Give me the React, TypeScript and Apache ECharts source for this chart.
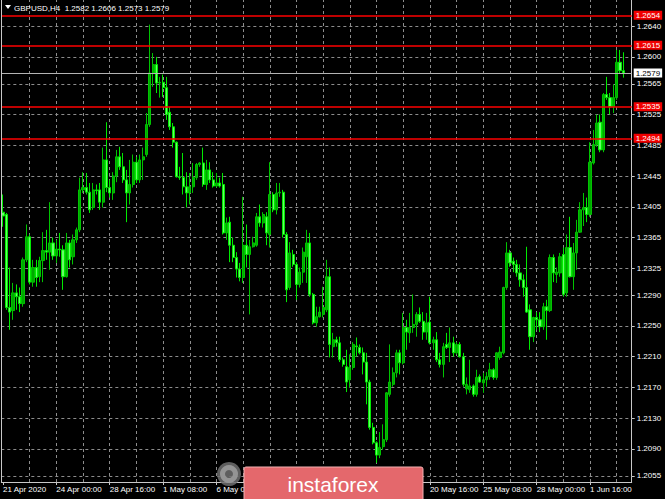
import React, { useEffect, useRef } from 'react';
import * as echarts from 'echarts';

const symbolName = 'GBPUSD,H4';
const tickLabels = ['21 Apr 2020', '24 Apr 00:00', '28 Apr 16:00', '1 May 08:00', '6 May 00:00', '8 May 16:00', '13 May 08:00', '18 May 00:00', '20 May 16:00', '25 May 08:00', '28 May 00:00', '1 Jun 16:00'];
// tick labels that sit completely under the watermark box in the reference
const coveredTickLabels = ['8 May 16:00', '13 May 08:00', '18 May 00:00'];
const priceTicks = [1.2055, 1.2090, 1.2130, 1.2170, 1.2210, 1.2250, 1.2290, 1.2325, 1.2365, 1.2405, 1.2445, 1.2485, 1.2525, 1.2565, 1.2600, 1.2640];
const levelLines = [1.2654, 1.2615, 1.2535, 1.2494];
const currentPrice = 1.2579;

const opens = [
  1.2398, 1.2395, 1.2274, 1.2270, 1.2293, 1.2288, 1.2279, 1.2336, 1.2366, 1.2307,
  1.2326, 1.2314, 1.2335, 1.2348, 1.2346, 1.2358, 1.2341, 1.2350, 1.2349, 1.2314,
  1.2358, 1.2340, 1.2362, 1.2375, 1.2427, 1.2430, 1.2424, 1.2404, 1.2427, 1.2427,
  1.2411, 1.2466, 1.2430, 1.2423, 1.2445, 1.2470, 1.2457, 1.2440, 1.2423, 1.2434,
  1.2463, 1.2440, 1.2466, 1.2473, 1.2512, 1.2579, 1.2590, 1.2566, 1.2567, 1.2560,
  1.2528, 1.2509, 1.2489, 1.2444, 1.2443, 1.2431, 1.2423, 1.2431, 1.2443, 1.2460,
  1.2462, 1.2434, 1.2453, 1.2440, 1.2432, 1.2436, 1.2434, 1.2371, 1.2385, 1.2355,
  1.2339, 1.2324, 1.2313, 1.2355, 1.2343, 1.2353, 1.2355, 1.2392, 1.2384, 1.2392,
  1.2369, 1.2421, 1.2401, 1.2423, 1.2424, 1.2369, 1.2300, 1.2343, 1.2330, 1.2304,
  1.2320, 1.2340, 1.2358, 1.2291, 1.2254, 1.2262, 1.2265, 1.2271, 1.2314, 1.2223,
  1.2232, 1.2228, 1.2206, 1.2197, 1.2180, 1.2196, 1.2224, 1.2222, 1.2215, 1.2203,
  1.2177, 1.2118, 1.2098, 1.2082, 1.2093, 1.2102, 1.2161, 1.2174, 1.2189, 1.2215,
  1.2202, 1.2248, 1.2241, 1.2248, 1.2252, 1.2265, 1.2256, 1.2242, 1.2255, 1.2228,
  1.2232, 1.2206, 1.2200, 1.2226, 1.2222, 1.2228, 1.2215, 1.2226, 1.2210, 1.2168,
  1.2167, 1.2172, 1.2161, 1.2184, 1.2176, 1.2180, 1.2184, 1.2193, 1.2183, 1.2209,
  1.2215, 1.2300, 1.2345, 1.2334, 1.2330, 1.2319, 1.2310, 1.2300, 1.2271, 1.2236,
  1.2261, 1.2258, 1.2249, 1.2275, 1.2270, 1.2339, 1.2317, 1.2319, 1.2343, 1.2293,
  1.2352, 1.2314, 1.2345, 1.2372, 1.2401, 1.2404, 1.2395, 1.2462, 1.2486, 1.2515,
  1.2479, 1.2551, 1.2547, 1.2535, 1.2547, 1.2593, 1.2582,
];
const highs = [
  1.2421, 1.2397, 1.2326, 1.2306, 1.2304, 1.2300, 1.2339, 1.2382, 1.2369, 1.2336,
  1.2336, 1.2340, 1.2372, 1.2375, 1.2411, 1.2365, 1.2362, 1.2371, 1.2355, 1.2371,
  1.2362, 1.2369, 1.2378, 1.2443, 1.2450, 1.2449, 1.2436, 1.2436, 1.2434, 1.2436,
  1.2482, 1.2515, 1.2440, 1.2450, 1.2479, 1.2483, 1.2475, 1.2453, 1.2466, 1.2473,
  1.2470, 1.2473, 1.2482, 1.2527, 1.2642, 1.2605, 1.2600, 1.2574, 1.2577, 1.2574,
  1.2535, 1.2514, 1.2490, 1.2457, 1.2475, 1.2450, 1.2449, 1.2462, 1.2462, 1.2463,
  1.2482, 1.2466, 1.2463, 1.2450, 1.2449, 1.2443, 1.2449, 1.2391, 1.2392, 1.2365,
  1.2346, 1.2332, 1.2418, 1.2382, 1.2362, 1.2366, 1.2397, 1.2408, 1.2398, 1.2398,
  1.2463, 1.2424, 1.2436, 1.2436, 1.2427, 1.2372, 1.2359, 1.2349, 1.2333, 1.2326,
  1.2352, 1.2375, 1.2371, 1.2293, 1.2275, 1.2275, 1.2301, 1.2336, 1.2326, 1.2241,
  1.2236, 1.2236, 1.2209, 1.2219, 1.2213, 1.2229, 1.2235, 1.2226, 1.2222, 1.2215,
  1.2180, 1.2124, 1.2100, 1.2112, 1.2122, 1.2164, 1.2226, 1.2196, 1.2219, 1.2219,
  1.2267, 1.2258, 1.2267, 1.2291, 1.2268, 1.2274, 1.2268, 1.2267, 1.2288, 1.2236,
  1.2242, 1.2215, 1.2228, 1.2241, 1.2248, 1.2236, 1.2229, 1.2229, 1.2215, 1.2183,
  1.2206, 1.2174, 1.2193, 1.2187, 1.2189, 1.2190, 1.2202, 1.2195, 1.2216, 1.2223,
  1.2301, 1.2359, 1.2349, 1.2339, 1.2336, 1.2330, 1.2317, 1.2353, 1.2278, 1.2262,
  1.2268, 1.2268, 1.2280, 1.2284, 1.2343, 1.2343, 1.2326, 1.2345, 1.2352, 1.2369,
  1.2392, 1.2358, 1.2388, 1.2411, 1.2423, 1.2417, 1.2489, 1.2505, 1.2525, 1.2525,
  1.2553, 1.2574, 1.2553, 1.2564, 1.2609, 1.2609, 1.2606,
];
const lows = [
  1.2379, 1.2271, 1.2245, 1.2258, 1.2271, 1.2268, 1.2275, 1.2333, 1.2304, 1.2301,
  1.2301, 1.2307, 1.2307, 1.2336, 1.2323, 1.2336, 1.2332, 1.2340, 1.2297, 1.2313,
  1.2326, 1.2330, 1.2358, 1.2372, 1.2423, 1.2421, 1.2397, 1.2401, 1.2421, 1.2401,
  1.2404, 1.2424, 1.2417, 1.2414, 1.2437, 1.2453, 1.2436, 1.2385, 1.2408, 1.2430,
  1.2436, 1.2436, 1.2440, 1.2470, 1.2509, 1.2561, 1.2553, 1.2547, 1.2548, 1.2518,
  1.2505, 1.2482, 1.2443, 1.2440, 1.2421, 1.2404, 1.2408, 1.2423, 1.2440, 1.2457,
  1.2431, 1.2427, 1.2436, 1.2430, 1.2430, 1.2430, 1.2369, 1.2362, 1.2333, 1.2333,
  1.2313, 1.2308, 1.2306, 1.2326, 1.2265, 1.2352, 1.2353, 1.2379, 1.2378, 1.2355,
  1.2352, 1.2398, 1.2395, 1.2418, 1.2365, 1.2281, 1.2297, 1.2327, 1.2284, 1.2300,
  1.2306, 1.2306, 1.2288, 1.2252, 1.2249, 1.2261, 1.2261, 1.2268, 1.2209, 1.2209,
  1.2223, 1.2203, 1.2197, 1.2164, 1.2170, 1.2193, 1.2210, 1.2213, 1.2187, 1.2148,
  1.2115, 1.2096, 1.2072, 1.2078, 1.2089, 1.2099, 1.2158, 1.2171, 1.2183, 1.2187,
  1.2200, 1.2219, 1.2228, 1.2241, 1.2236, 1.2254, 1.2232, 1.2232, 1.2226, 1.2219,
  1.2203, 1.2196, 1.2183, 1.2220, 1.2203, 1.2210, 1.2213, 1.2209, 1.2171, 1.2161,
  1.2163, 1.2158, 1.2158, 1.2176, 1.2163, 1.2171, 1.2180, 1.2180, 1.2180, 1.2206,
  1.2213, 1.2297, 1.2327, 1.2320, 1.2314, 1.2301, 1.2288, 1.2267, 1.2219, 1.2229,
  1.2245, 1.2242, 1.2245, 1.2232, 1.2268, 1.2307, 1.2306, 1.2314, 1.2288, 1.2288,
  1.2313, 1.2297, 1.2323, 1.2371, 1.2380, 1.2385, 1.2392, 1.2460, 1.2483, 1.2476,
  1.2476, 1.2544, 1.2525, 1.2527, 1.2544, 1.2579, 1.2573,
];
const closes = [
  1.2393, 1.2274, 1.2268, 1.2293, 1.2288, 1.2279, 1.2336, 1.2366, 1.2307, 1.2326,
  1.2313, 1.2335, 1.2348, 1.2346, 1.2358, 1.2341, 1.2350, 1.2349, 1.2314, 1.2358,
  1.2336, 1.2362, 1.2375, 1.2427, 1.2430, 1.2424, 1.2401, 1.2427, 1.2426, 1.2411,
  1.2466, 1.2430, 1.2423, 1.2445, 1.2470, 1.2457, 1.2440, 1.2423, 1.2434, 1.2463,
  1.2440, 1.2466, 1.2470, 1.2512, 1.2579, 1.2590, 1.2566, 1.2567, 1.2560, 1.2525,
  1.2509, 1.2489, 1.2444, 1.2443, 1.2431, 1.2423, 1.2431, 1.2443, 1.2460, 1.2462,
  1.2434, 1.2453, 1.2440, 1.2432, 1.2436, 1.2432, 1.2371, 1.2384, 1.2355, 1.2339,
  1.2324, 1.2313, 1.2355, 1.2343, 1.2353, 1.2358, 1.2392, 1.2384, 1.2395, 1.2371,
  1.2421, 1.2401, 1.2423, 1.2424, 1.2369, 1.2297, 1.2345, 1.2330, 1.2304, 1.2320,
  1.2346, 1.2358, 1.2291, 1.2254, 1.2262, 1.2268, 1.2274, 1.2314, 1.2226, 1.2232,
  1.2228, 1.2206, 1.2200, 1.2177, 1.2196, 1.2226, 1.2223, 1.2215, 1.2203, 1.2177,
  1.2118, 1.2098, 1.2082, 1.2092, 1.2102, 1.2163, 1.2177, 1.2189, 1.2215, 1.2202,
  1.2248, 1.2242, 1.2248, 1.2252, 1.2265, 1.2256, 1.2242, 1.2254, 1.2228, 1.2232,
  1.2206, 1.2200, 1.2223, 1.2222, 1.2228, 1.2215, 1.2226, 1.2210, 1.2174, 1.2174,
  1.2172, 1.2161, 1.2183, 1.2177, 1.2180, 1.2184, 1.2193, 1.2183, 1.2215, 1.2216,
  1.2300, 1.2345, 1.2332, 1.2330, 1.2319, 1.2310, 1.2300, 1.2268, 1.2236, 1.2261,
  1.2258, 1.2249, 1.2275, 1.2270, 1.2339, 1.2319, 1.2320, 1.2340, 1.2291, 1.2352,
  1.2314, 1.2345, 1.2372, 1.2401, 1.2404, 1.2395, 1.2463, 1.2486, 1.2514, 1.2479,
  1.2551, 1.2547, 1.2535, 1.2547, 1.2593, 1.2582, 1.2579,
];

const EMPTY_SLOTS = 2;

function pad(n: number) {
  return n < 10 ? '0' + n : String(n);
}

function buildCategories(n: number): string[] {
  const out: string[] = [];
  let t = Date.UTC(2020, 3, 21, 8);
  while (out.length < n) {
    const d = new Date(t);
    const wd = d.getUTCDay();
    if (wd !== 0 && wd !== 6) {
      out.push(`${d.getUTCFullYear()}.${pad(d.getUTCMonth() + 1)}.${pad(d.getUTCDate())} ${pad(d.getUTCHours())}:00`);
    }
    t += 4 * 3600 * 1000;
  }
  return out;
}

export default function App() {
  const ref = useRef<HTMLDivElement>(null);

  useEffect(() => {
    if (!ref.current) return;
    const chart = echarts.init(ref.current, null, { renderer: 'svg' });
    const font = "'Liberation Sans', Arial, sans-serif";
    const fs = 8;
    const cats = buildCategories(opens.length + EMPTY_SLOTS);
    const candles = opens.map((o, i) => [o, closes[i], lows[i], highs[i]]);
    const last = opens.length - 1;
    const title = `${symbolName}  ${opens[last].toFixed(4)} ${highs[last].toFixed(4)} ${lows[last].toFixed(4)} ${closes[last].toFixed(4)}`;

    const gridLines: any[] = [];
    for (let i = 8; i < cats.length; i += 8) gridLines.push({ xAxis: cats[i] });
    priceTicks.forEach((v) => gridLines.push({ yAxis: v }));

    const labelBase = {
      show: true,
      position: 'end',
      distance: 2,
      fontSize: fs,
      lineHeight: 7,
      fontFamily: font,
      padding: [1, 2, 1, 2],
    };
    const levelData: any[] = levelLines.map((v) => ({
      yAxis: v,
      lineStyle: { color: '#ff0000', width: 1.6, type: 'solid' },
      label: { ...labelBase, formatter: v.toFixed(4), color: '#ffffff', backgroundColor: '#f00000' },
    }));
    levelData.push({
      yAxis: currentPrice,
      lineStyle: { color: '#b4b4b4', width: 1.2, type: 'solid' },
      label: { ...labelBase, formatter: currentPrice.toFixed(4), color: '#000000', backgroundColor: '#ffffff' },
    });

    chart.setOption({
      animation: false,
      backgroundColor: '#000000',
      grid: { left: 1, right: 33.3, top: 0, bottom: 17 },
      xAxis: {
        type: 'category',
        data: cats,
        boundaryGap: true,
        axisLine: { show: true, lineStyle: { color: '#c8c8c8', width: 1 } },
        axisTick: { show: true, alignWithLabel: true, interval: 15, length: 3, lineStyle: { color: '#c8c8c8' } },
        axisLabel: {
          interval: 15,
          align: 'left',
          margin: 3,
          color: '#ffffff',
          fontSize: fs,
          lineHeight: 9,
          fontFamily: font,
          formatter: (_v: string, i: number) => {
            if (i % 16 !== 0) return '';
            const t = tickLabels[i / 16] ?? '';
            return coveredTickLabels.indexOf(t) >= 0 ? '' : t;
          },
        },
        splitLine: { show: false },
      },
      yAxis: {
        type: 'value',
        position: 'right',
        min: 1.2047,
        max: 1.2674,
        scale: true,
        axisLine: { show: true, lineStyle: { color: '#c8c8c8', width: 1 } },
        axisTick: { show: true, length: 3, customValues: priceTicks, lineStyle: { color: '#c8c8c8' } },
        axisLabel: {
          customValues: priceTicks,
          formatter: (v: number) => v.toFixed(4),
          color: '#ffffff',
          fontSize: fs,
          lineHeight: 7,
          fontFamily: font,
          margin: 5,
        },
        splitLine: { show: false },
      },
      series: [
        {
          type: 'line',
          data: [],
          silent: true,
          markLine: {
            silent: true,
            z: 1,
            precision: 4,
            symbol: ['none', 'none'],
            label: { show: false },
            lineStyle: { color: '#8c8c8c', width: 1, type: [3, 3] },
            emphasis: { disabled: true },
            data: gridLines,
          },
        },
        {
          type: 'candlestick',
          data: candles,
          z: 2,
          barWidth: 2.6,
          silent: true,
          itemStyle: {
            color: '#00a800',
            color0: '#66ff66',
            borderColor: '#00c400',
            borderColor0: '#00ea00',
            borderWidth: 1,
          },
          markLine: {
            silent: true,
            z: 5,
            precision: 4,
            symbol: ['none', 'none'],
            emphasis: { disabled: true },
            data: levelData,
          },
        },
      ],
      graphic: {
        elements: [
          { type: 'line', silent: true, z: 10, shape: { x1: 1.5, y1: 0, x2: 1.5, y2: 482 }, style: { stroke: '#c8c8c8', lineWidth: 1 } },
          { type: 'polygon', silent: true, z: 10, shape: { points: [[5, 5], [11, 5], [8, 9]] }, style: { fill: '#ffffff' } },
          { type: 'text', silent: true, z: 10, x: 14, y: 8, style: { text: title, fill: '#ffffff', fontSize: fs, fontFamily: font, textVerticalAlign: 'middle' } },
          { type: 'circle', silent: true, z: 100, shape: { cx: 229, cy: 474, r: 12 }, style: { fill: '#6e6e6e', opacity: 0.85 } },
          { type: 'ring', silent: true, z: 101, shape: { cx: 229, cy: 474, r: 9, r0: 4 }, style: { fill: '#9a9a9a', opacity: 0.9 } },
          { type: 'rect', silent: true, z: 100, shape: { x: 244, y: 467, width: 179, height: 36, r: 2 }, style: { fill: '#e4686c', stroke: '#f2b0b2', lineWidth: 1 } },
          { type: 'text', silent: true, z: 101, x: 333, y: 484, style: { text: 'instaforex', fill: '#ffffff', fontSize: 21, fontFamily: font, textAlign: 'center', textVerticalAlign: 'middle' } },
        ],
      },
    });

    return () => chart.dispose();
  }, []);

  return (
    <div
      ref={ref}
      style={{ position: 'fixed', left: 0, top: 0, width: 665, height: 499, background: '#000' }}
    />
  );
}
